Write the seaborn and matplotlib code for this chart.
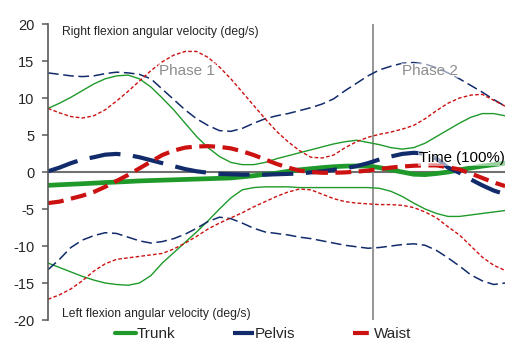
import matplotlib
matplotlib.use("Agg")
import matplotlib.pyplot as plt
from matplotlib.lines import Line2D
import seaborn as sns
import pandas as pd

# time axis (% of movement), values every 2.5 %
time_pct = [i * 2.5 for i in range(41)]

trunk_mean = [-1.8, -1.72, -1.65, -1.58, -1.5, -1.42, -1.35, -1.28, -1.2, -1.15,
              -1.1, -1.05, -1.0, -0.95, -0.9, -0.85, -0.8, -0.65, -0.5, -0.3,
              -0.15, 0.1, 0.3, 0.45, 0.6, 0.72, 0.8, 0.82, 0.8, 0.6,
              0.3, 0.0, -0.3, -0.35, -0.2, 0.0, 0.3, 0.55, 0.8, 1.0, 1.2]
trunk_upper = [8.6, 9.3, 10.1, 11.0, 11.9, 12.6, 13.0, 13.1, 12.6, 11.5,
               10.0, 8.4, 6.6, 4.8, 3.3, 2.1, 1.3, 1.0, 1.0, 1.3,
               1.8, 2.2, 2.6, 3.0, 3.4, 3.8, 4.1, 4.3, 4.0, 3.7,
               3.3, 3.1, 3.3, 3.9, 4.8, 5.7, 6.6, 7.4, 7.9, 7.9, 7.6]
trunk_lower = [-12.3, -12.9, -13.5, -14.1, -14.6, -15.0, -15.2, -15.3, -15.0, -14.0,
               -12.3, -10.9, -9.5, -8.1, -6.6, -5.0, -3.5, -2.4, -2.1, -2.0,
               -2.0, -2.0, -2.1, -2.1, -2.1, -2.1, -2.1, -2.1, -2.1, -2.2,
               -2.6, -3.3, -4.2, -5.0, -5.6, -6.0, -6.0, -5.8, -5.6, -5.4, -5.2]

pelvis_mean = [0.1, 0.6, 1.2, 1.7, 2.0, 2.35, 2.45, 2.3, 2.0, 1.6,
               1.2, 0.8, 0.4, 0.1, -0.1, -0.25, -0.3, -0.35, -0.35, -0.35,
               -0.3, -0.25, -0.2, -0.05, 0.1, 0.3, 0.5, 0.8, 1.2, 1.7,
               2.1, 2.45, 2.6, 2.5, 1.8, 0.6, -0.1, -1.0, -1.8, -2.5, -3.0]
pelvis_upper = [13.4, 13.2, 13.0, 12.9, 13.0, 13.3, 13.5, 13.4, 13.2, 12.6,
                11.2, 9.8, 8.4, 7.2, 6.3, 5.6, 5.5, 5.9, 6.6, 7.2,
                7.6, 7.9, 8.3, 8.7, 9.2, 9.9, 11.0, 12.0, 13.0, 13.8,
                14.3, 14.7, 14.8, 14.6, 14.1, 13.4, 12.6, 11.7, 10.8, 9.8, 8.9]
pelvis_lower = [-13.2, -11.8, -10.2, -9.2, -8.6, -8.2, -8.3, -8.8, -9.3, -9.6,
                -9.4, -9.0, -8.4, -7.6, -6.7, -6.1, -6.3, -6.9, -7.6, -8.1,
                -8.3, -8.5, -8.8, -9.0, -9.3, -9.6, -9.9, -10.1, -10.3, -10.2,
                -10.0, -9.8, -9.7, -9.9, -10.6, -11.6, -12.7, -13.9, -14.7, -15.2, -15.0]

waist_mean = [-4.2, -4.0, -3.6, -3.2, -2.7, -2.0, -1.2, -0.4, 0.5, 1.4,
              2.3, 2.9, 3.3, 3.45, 3.5, 3.4, 3.2, 2.8, 2.3, 1.7,
              1.1, 0.6, 0.2, 0.0, -0.1, -0.1, -0.05, 0.05, 0.2, 0.4,
              0.6, 0.75, 0.85, 0.9, 0.9, 0.65, 0.35, -0.2, -0.8, -1.4, -1.9]
waist_upper = [8.6, 8.0, 7.5, 7.3, 7.6, 8.4, 9.6, 10.9, 12.3, 13.7,
               14.9, 15.8, 16.3, 16.3, 15.5, 14.2, 12.6, 10.8, 9.0, 7.2,
               5.5, 4.1, 2.9, 2.0, 1.9, 2.3, 3.3, 4.1, 4.7, 5.1,
               5.4, 5.8, 6.3, 7.2, 8.3, 9.3, 10.0, 10.4, 10.5, 9.7, 8.9]
waist_lower = [-17.2, -16.6, -15.8, -14.7, -13.4, -12.4, -11.8, -11.6, -11.4, -11.2,
               -11.0, -10.4, -9.6, -8.7, -7.7, -6.9, -6.2, -5.5, -4.7, -4.0,
               -3.3, -2.7, -2.3, -2.4, -3.0, -3.6, -4.0, -4.2, -4.3, -4.4,
               -4.4, -4.5, -4.8, -5.4, -6.2, -7.4, -8.5, -10.0, -11.5, -12.6, -13.3]

phase_split = 71
y_ticks = [-20, -15, -10, -5, 0, 5, 10, 15, 20]

green = "#1f9a2a"
navy = "#112b6b"
red = "#cc1111"

sns.set_style("white")
plt.rcParams["font.family"] = ["Liberation Sans", "DejaVu Sans"]

fig = plt.figure(figsize=(5.26, 3.57), dpi=100)
ax = fig.add_axes([0.0913, 0.1036, 0.869, 0.829])

df = pd.DataFrame({
    "t": time_pct,
    "trunk_mean": trunk_mean, "trunk_upper": trunk_upper, "trunk_lower": trunk_lower,
    "pelvis_mean": pelvis_mean, "pelvis_upper": pelvis_upper, "pelvis_lower": pelvis_lower,
    "waist_mean": waist_mean, "waist_upper": waist_upper, "waist_lower": waist_lower,
})

# zero line and phase boundary
ax.axhline(0, color="#707070", lw=1.5, zorder=1)
ax.axvline(phase_split, color="#8c8c8c", lw=1.3, zorder=1)

# thin bands (mean +/- sd)
for col in ["trunk_upper", "trunk_lower"]:
    sns.lineplot(data=df, x="t", y=col, ax=ax, color=green, lw=1.0, errorbar=None)
for col in ["pelvis_upper", "pelvis_lower"]:
    sns.lineplot(data=df, x="t", y=col, ax=ax, color=navy, lw=1.1, errorbar=None,
                 linestyle=(0, (7, 3)))
for col in ["waist_upper", "waist_lower"]:
    sns.lineplot(data=df, x="t", y=col, ax=ax, color=red, lw=1.0, errorbar=None,
                 linestyle=(0, (2.6, 1.6)))

# thick means
sns.lineplot(data=df, x="t", y="trunk_mean", ax=ax, color=green, lw=3.4, errorbar=None)
sns.lineplot(data=df, x="t", y="pelvis_mean", ax=ax, color=navy, lw=3.0, errorbar=None,
             linestyle=(0, (7.5, 3.0)))
sns.lineplot(data=df, x="t", y="waist_mean", ax=ax, color=red, lw=3.0, errorbar=None,
             linestyle=(0, (3.8, 1.8)))

ax.set_xlim(0, 100)
ax.set_ylim(-20, 20)
ax.set_yticks(y_ticks)
ax.set_yticklabels([str(v) for v in y_ticks], fontsize=10.5)
ax.set_xticks([])
ax.set_xlabel("")
ax.set_ylabel("")
for s in ["top", "right", "bottom"]:
    ax.spines[s].set_visible(False)
ax.spines["left"].set_color("#595959")
ax.spines["left"].set_linewidth(1.2)
ax.tick_params(axis="y", direction="out", length=4, width=1.1, color="#595959",
               pad=6, left=True)

ax.text(3.1, 18.9, "Right flexion angular velocity (deg/s)", fontsize=8.7, va="center")
ax.text(3.1, -19.2, "Left flexion angular velocity (deg/s)", fontsize=8.7, va="center")
box = dict(facecolor="white", edgecolor="none", alpha=0.55, pad=0.5)
ax.text(30.4, 13.7, "Phase 1", fontsize=11, color="#8c8c8c", ha="center", va="center",
        bbox=box, zorder=5)
ax.text(83.6, 13.7, "Phase 2", fontsize=11, color="#8c8c8c", ha="center", va="center",
        bbox=box, zorder=5)
ax.text(90.6, 1.9, "Time (100%)", fontsize=10.8, color="black", ha="center", va="center",
        bbox=box, zorder=5)

handles = [
    Line2D([], [], color=green, lw=3.0),
    Line2D([], [], color=navy, lw=3.0, linestyle=(0, (7.5, 3.0))),
    Line2D([], [], color=red, lw=3.0, linestyle=(0, (3.8, 1.8))),
]
fig.legend(handles, ["Trunk", "Pelvis", "Waist"], loc="center", ncol=3,
           bbox_to_anchor=(0.501, 0.064), frameon=False, fontsize=11,
           handlelength=1.35, handletextpad=0.05, columnspacing=3.78)

fig.savefig("out.png", dpi=100)
